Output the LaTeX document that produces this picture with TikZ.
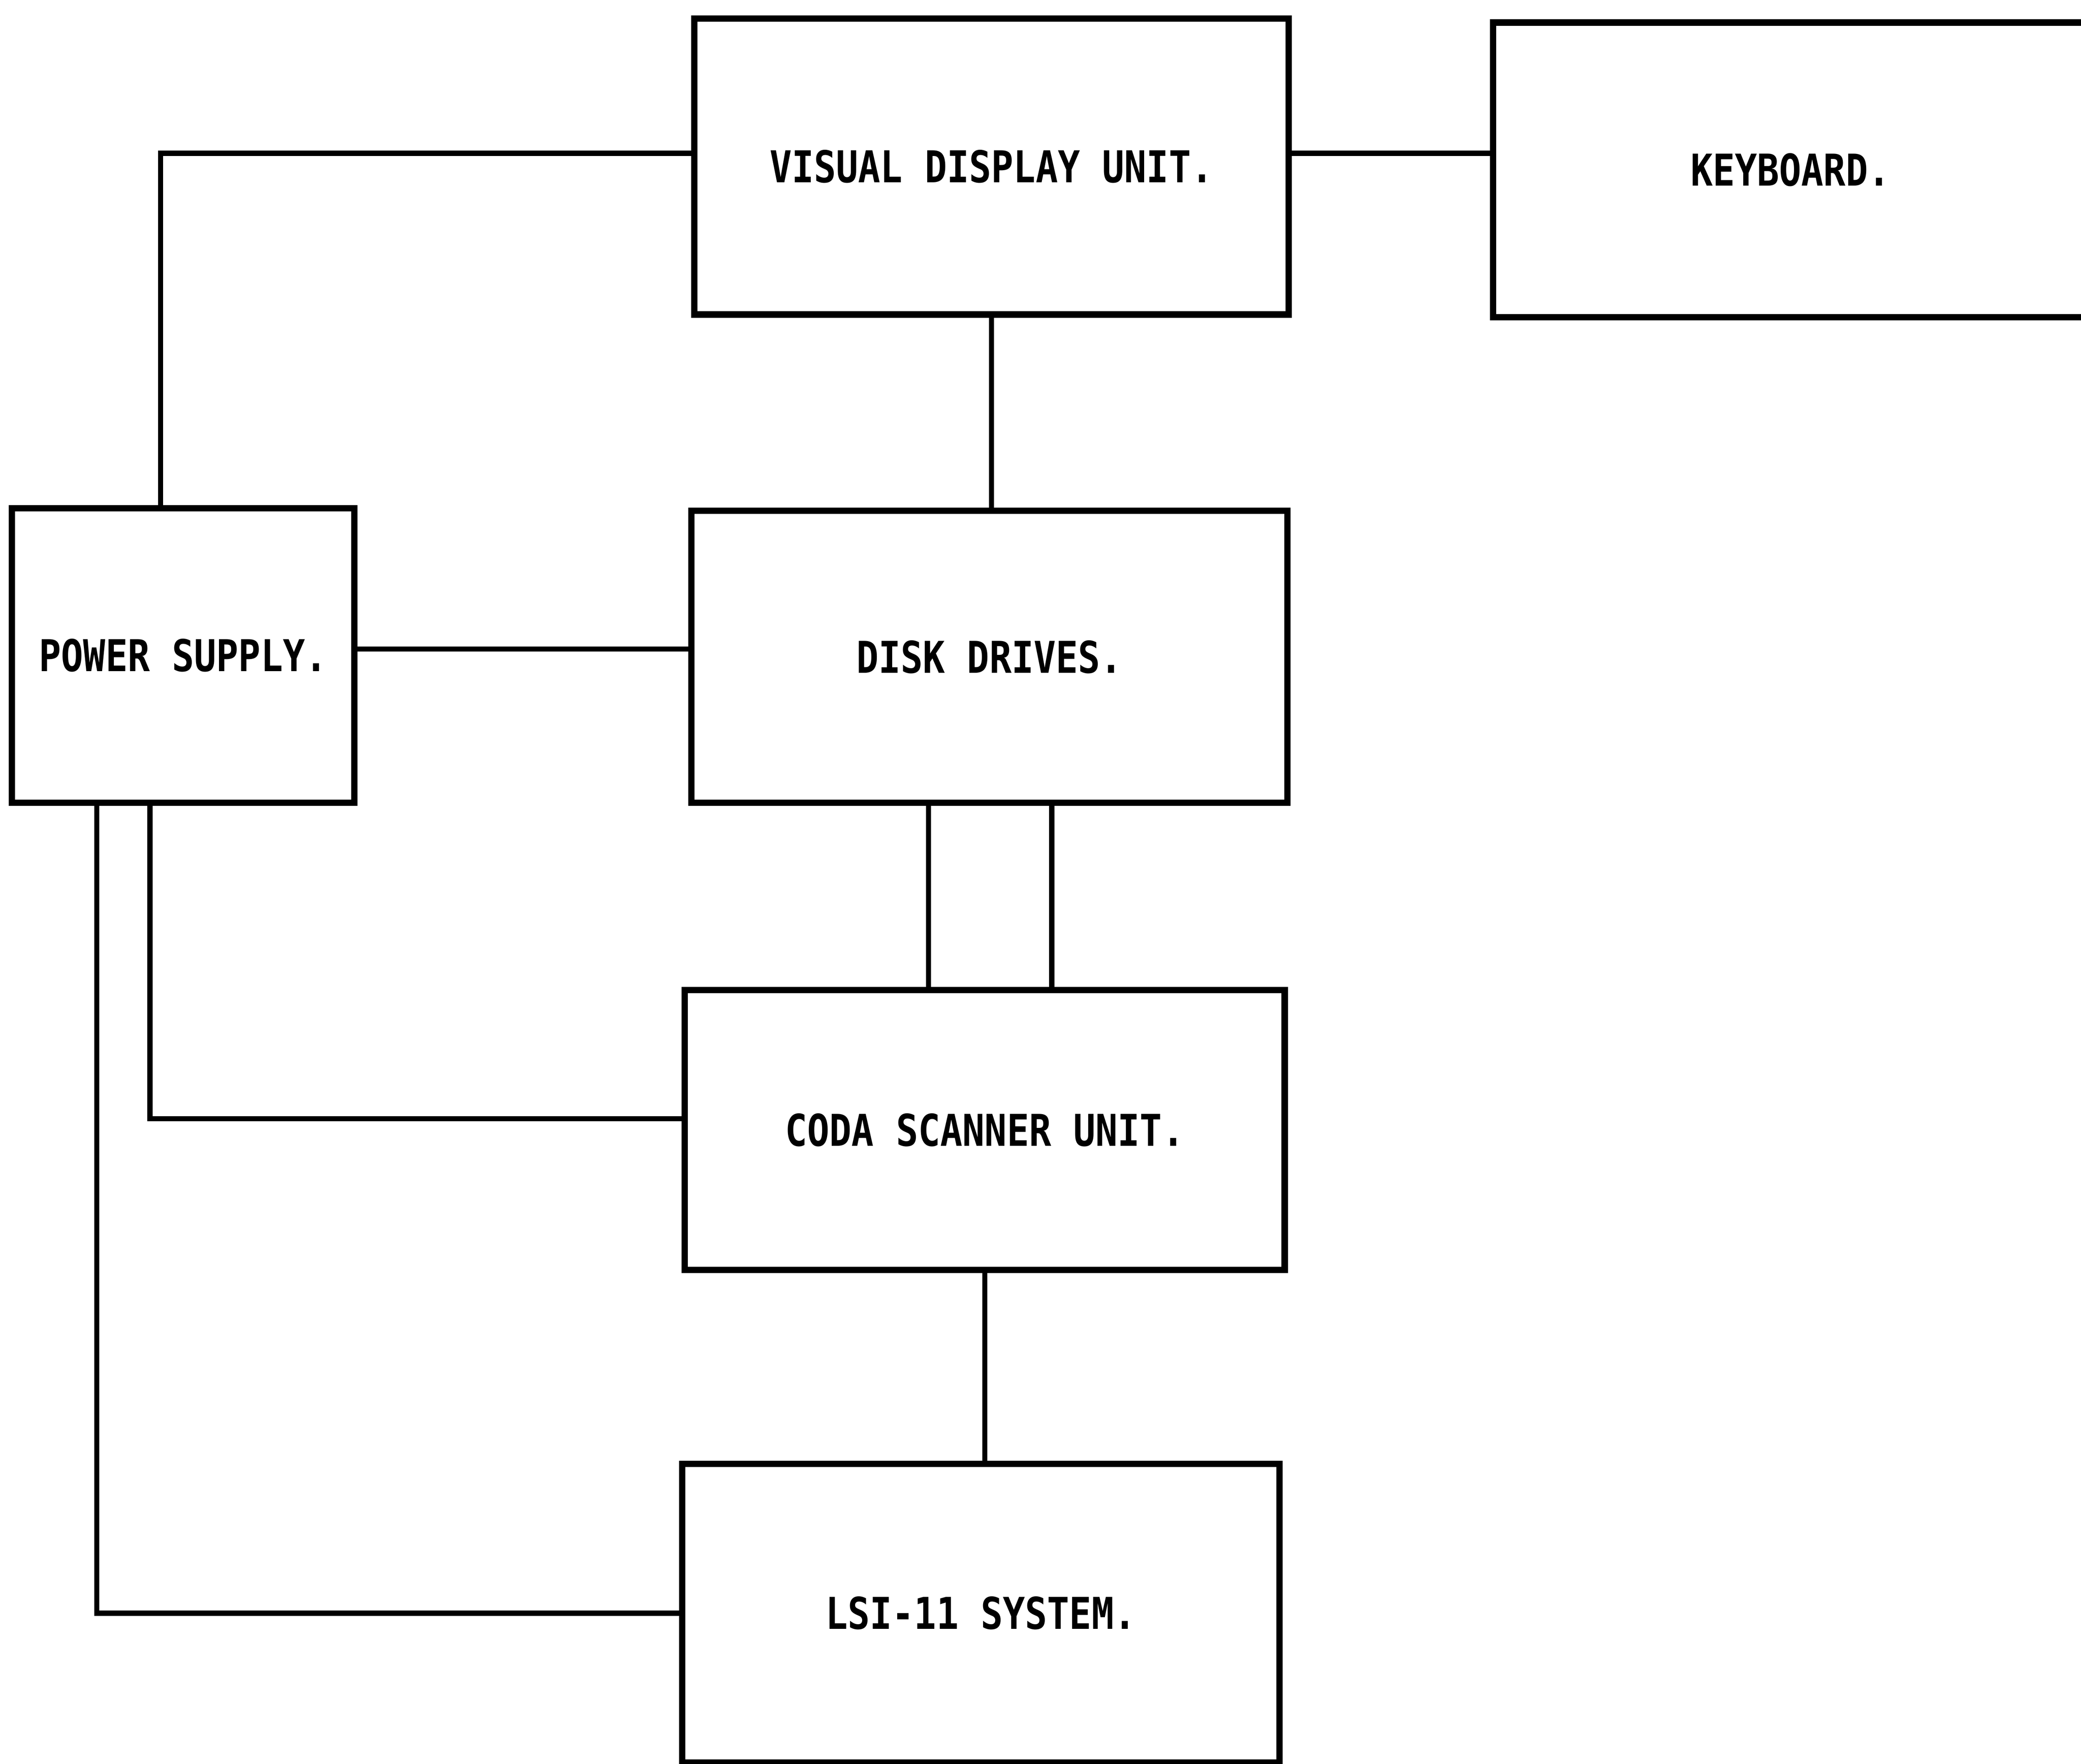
\documentclass[tikz,border=0pt]{standalone}
\usepackage{fontspec}
\newfontfamily\plotter{DejaVu Sans Mono}[FakeStretch=0.84]
\usetikzlibrary{positioning}

\begin{document}
\begin{tikzpicture}[
   blk/.style={draw, line width=1.35pt, inner sep=0pt,
     font=\plotter\bfseries\fontsize{9.4}{11}\selectfont},
   wire/.style={line width=1.1pt}]
   \clip (0,0) rectangle (15.68,13.29);

   % units
   \node[blk, minimum width=4.48cm, minimum height=2.23cm] (vdu) at (7.47,12.035) {VISUAL DISPLAY UNIT.};
   \node[blk, minimum width=4.48cm, minimum height=2.22cm] (kbd) at (13.49,12.01) {KEYBOARD.};
   \node[blk, minimum width=2.58cm, minimum height=2.22cm] (ps) at (1.38,8.35) {POWER SUPPLY.};
   \node[blk, minimum width=4.49cm, minimum height=2.20cm] (disk) at (7.455,8.34) {DISK DRIVES.};
   \node[blk, minimum width=4.52cm, minimum height=2.11cm] (coda) at (7.42,4.775) {CODA SCANNER UNIT.};
   \node[blk, minimum width=4.50cm, minimum height=2.25cm] (lsi) at (7.39,1.135) {LSI-11 SYSTEM.};

   % connections
   \draw[wire] ([xshift=-1.7mm]ps.north) |- ([yshift=1mm]vdu.west);
   \draw[wire] ([yshift=1mm]vdu.east) -- ([yshift=1mm]vdu.east -| kbd.west);
   \draw[wire] (vdu.south) -- (vdu.south |- disk.north);
   \draw[wire] ([yshift=0.5mm]ps.east) -- ([yshift=0.5mm]ps.east -| disk.west);
   \draw[wire] ([xshift=-4.6mm]disk.south) -- ([xshift=-4.6mm]disk.south |- coda.north);
   \draw[wire] ([xshift=4.7mm]disk.south) -- ([xshift=4.7mm]disk.south |- coda.north);
   \draw[wire] ([xshift=-2.5mm]ps.south) |- ([yshift=0.85mm]coda.west);
   \draw[wire] ([xshift=-6.5mm]ps.south) |- (lsi.west);
   \draw[wire] (coda.south) -- (coda.south |- lsi.north);
\end{tikzpicture}
\end{document}
